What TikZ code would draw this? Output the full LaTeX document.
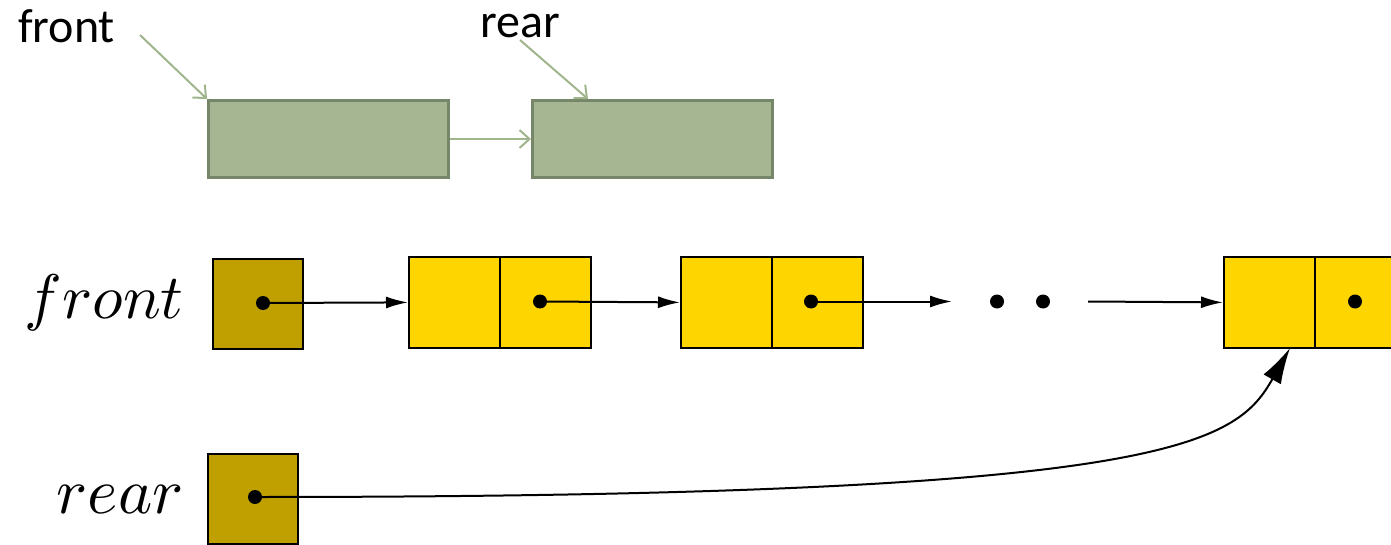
\documentclass[tikz,border=0pt]{standalone}
\usepackage{fontspec}
\newfontfamily\labelfont{Carlito}
\usetikzlibrary{arrows.meta}
\definecolor{gfill}{RGB}{166,181,146}
\definecolor{gline}{RGB}{118,134,104}
\definecolor{garrow}{RGB}{160,181,140}
\definecolor{cellfill}{RGB}{255,213,0}
\definecolor{headfill}{RGB}{191,160,0}
\begin{document}
\begin{tikzpicture}[x=1pt,y=-1pt,
  gbox/.style={draw=gline,fill=gfill,line width=3pt,inner sep=0pt,
    minimum width=240pt,minimum height=77pt,anchor=north west},
  garr/.style={draw=garrow,line width=2pt,-{Straight Barb[length=10pt,width=18pt]}},
  cellbox/.style={draw=black,fill=cellfill,line width=1.8pt,inner sep=0pt,
    minimum width=91pt,minimum height=91pt,anchor=north west},
  headbox/.style={draw=black,fill=headfill,line width=1.8pt,inner sep=0pt,
    minimum width=90pt,minimum height=90pt,anchor=north west},
  ptr/.style={circle,fill=black,inner sep=0pt,minimum size=14pt},
  link/.style={line width=2pt,-{Latex[length=22pt,width=12pt]}},
  sanslbl/.style={font=\labelfont\fontsize{48}{52}\selectfont,inner sep=0pt,anchor=base west},
  mathlbl/.style={inner sep=0pt,anchor=base east}]
\useasboundingbox (0,0) rectangle (1391,545);

% ---- top: simple two-node queue ----
\node[sanslbl] (tfront) at (18,43) {front};
\node[sanslbl] (trear) at (480,38) {rear};
\node[gbox] (g1) at (207,99) {};
\node[gbox] (g2) at (531,99) {};
\coordinate (tfrontptr) at (140,35);
\coordinate (trearptr) at (520,40);
\coordinate (g2top) at (588,99);
\draw[garr] (tfrontptr) -- (g1.north west);
\draw[garr] (trearptr) -- (g2top);
\draw[garr] (g1.east) -- (g2.west);

% ---- linked list with front and rear pointers ----
\node[mathlbl] (lfront) at (184,318) {\scalebox{6.3}{$front$}};
\node[mathlbl] (lrear) at (184,513) {\scalebox{6.5}{$rear$}};

\node[headbox] (hfront) at (212,258) {};
\node[headbox] (hrear) at (207,453) {};

\node[cellbox] (n1a) at (408,256) {};
\node[cellbox] (n1b) at (499,256) {};
\node[cellbox] (n2a) at (680,256) {};
\node[cellbox] (n2b) at (771,256) {};
\node[cellbox] (n3a) at (1223,256) {};
\node[cellbox] (n3b) at (1314,256) {};

\node[ptr] (pfront) at (263,303) {};
\node[ptr] (p1) at (540,301.5) {};
\node[ptr] (p2) at (811,301.5) {};
\node[ptr] (p3) at (1355,301.5) {};
\node[ptr] (prear) at (255,497) {};

\node[ptr] (dotA) at (997,301.5) {};
\node[ptr] (dotB) at (1043,301.5) {};
\coordinate (gapend) at (952,301.5);
\coordinate (gapstart) at (1088,301.5);
\coordinate (lastin) at (1290,348);

\draw[link] (pfront.center) -- (n1a.west);
\draw[link] (p1.center) -- (n2a.west);
\draw[link] (p2.center) -- (gapend);
\draw[link] (gapstart) -- (n3a.west);
\draw[line width=2pt,-{Latex[length=36pt,width=20pt]}]
  (prear.center) .. controls (1170,497) and (1235,445) .. (lastin);
\end{tikzpicture}
\end{document}
